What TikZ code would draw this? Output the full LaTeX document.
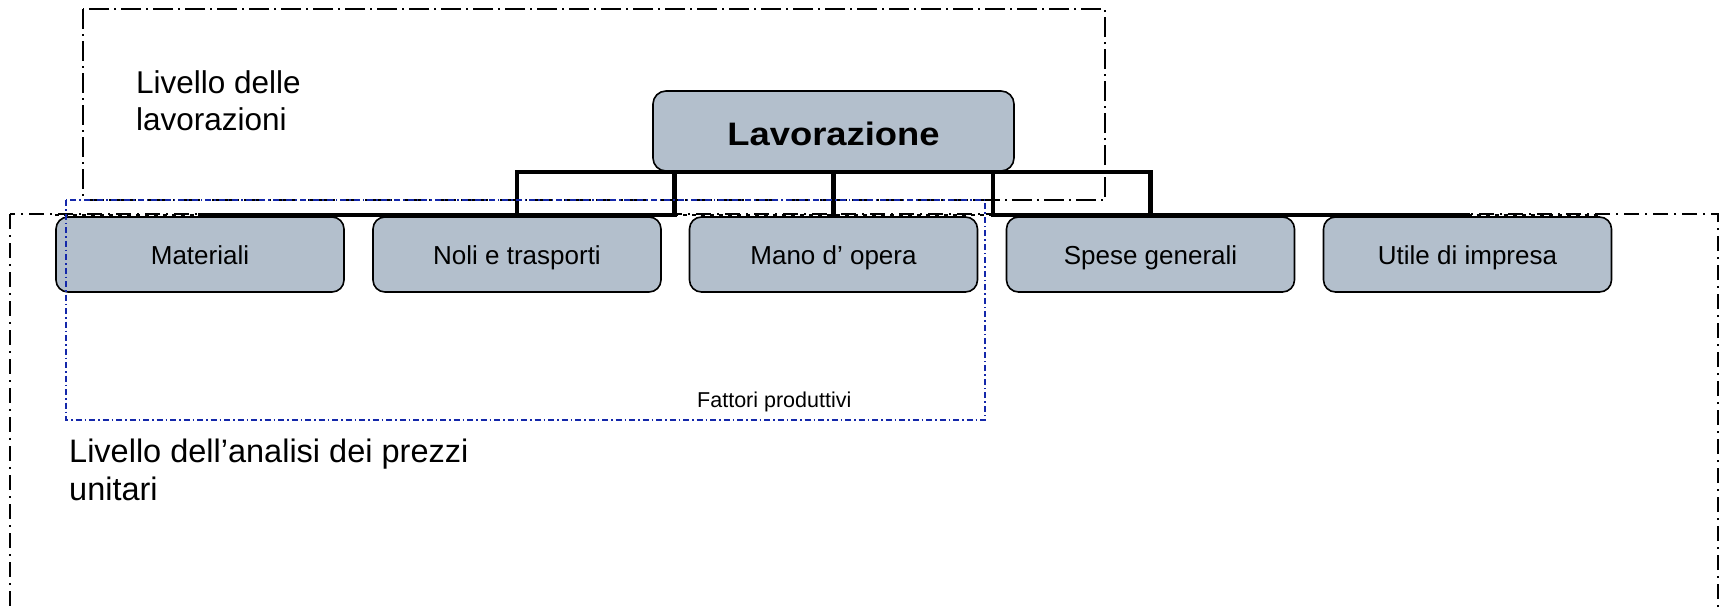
\documentclass[tikz,border=0pt]{standalone}
\usepackage{fontspec}
\setmainfont{Liberation Sans}
\usepackage{graphicx}
\usetikzlibrary{calc}
\definecolor{boxfill}{RGB}{179,191,204}
\definecolor{bluebox}{RGB}{20,40,170}
\begin{document}
\begin{tikzpicture}[x=1pt,y=-1pt,
  childbox/.style={draw=black, line width=1.6pt, fill=boxfill, rounded corners=12pt,
    minimum width=288pt, minimum height=75pt, inner sep=0pt,
    text height=19pt, text depth=0pt, font=\fontsize{26}{31}\selectfont},
  topbox/.style={draw=black, line width=1.6pt, fill=boxfill, rounded corners=13pt,
    minimum width=361pt, minimum height=80pt, inner sep=0pt,
    text height=28pt, text depth=0pt, font=\bfseries\fontsize{32.5}{38}\selectfont},
  conn/.style={draw=black, line width=4.6pt, line cap=rect, line join=miter},
  dotconn/.style={draw=black, line width=2.5pt, dash pattern=on 4pt off 5pt},
  topdash/.style={draw=black, line width=1.4pt, dash pattern=on 20pt off 5pt on 2pt off 5pt},
  bigdash/.style={draw=black, line width=2pt, dash pattern=on 15pt off 6pt on 2pt off 6pt},
  bluedash/.style={draw=bluebox, line width=1.5pt, dash pattern=on 6pt off 3pt on 1.5pt off 3pt},
  lbl/.style={anchor=base west, inner sep=0pt}
]
\clip (0,0) rectangle (1721,611);
\fill[white] (0,0) rectangle (1721,611);

% level frames
\draw[bigdash] (10,214) rectangle (1718,640);
\draw[topdash] (83,9) rectangle (1105,200);

% nodes
\node[childbox] (mat) at (200,254.5) {Materiali};
\node[childbox] (noli) at (517,254.5) {Noli e trasporti};
\node[childbox] (mano) at (833.5,254.5) {Mano d’ opera};
\node[childbox] (spese) at (1150.5,254.5) {Spese generali};
\node[childbox] (utile) at (1467.5,254.5) {Utile di impresa};
\node[topbox] (lav) at (833.5,131) {\scalebox{1.12}[1]{Lavorazione}};

\coordinate (bus) at (0,215);
\coordinate (bL) at ($(lav.south west)+(22,0)$);
\coordinate (bR) at ($(lav.south east)+(-22,0)$);

% connectors
\draw[dotconn] (mat.west |- bus) -- (mat.north |- bus);
\draw[dotconn] (bL |- bus) -- (bR |- bus);
\draw[dotconn] (utile.north |- bus) -- ($(utile.east |- bus)+(-11,0)$);
\draw[conn] (mat.north |- bus) -- (bL |- bus) -- (bL);
\draw[conn] (noli.north |- bus) -- (noli.north |- lav.south) -- (spese.north |- lav.south) -- (spese.north |- bus);
\draw[conn] (utile.north |- bus) -- (bR |- bus) -- (bR);
\draw[conn] (mano.north |- lav.south) -- (mano.north |- bus);

% productive factors frame
\draw[bluedash] (66,200) rectangle (985,420);

% labels
\node[lbl, font=\fontsize{31.5}{37}\selectfont] (l1a) at (136,93) {Livello delle};
\node[lbl, font=\fontsize{31.5}{37}\selectfont] (l1b) at (136,130) {lavorazioni};
\node[lbl, font=\fontsize{21.5}{25}\selectfont] (fp) at (697,407) {Fattori produttivi};
\node[lbl, font=\fontsize{32.5}{38}\selectfont] (l2a) at (69,462) {Livello dell’analisi dei prezzi};
\node[lbl, font=\fontsize{32.5}{38}\selectfont] (l2b) at (69,500) {unitari};
\end{tikzpicture}
\end{document}
